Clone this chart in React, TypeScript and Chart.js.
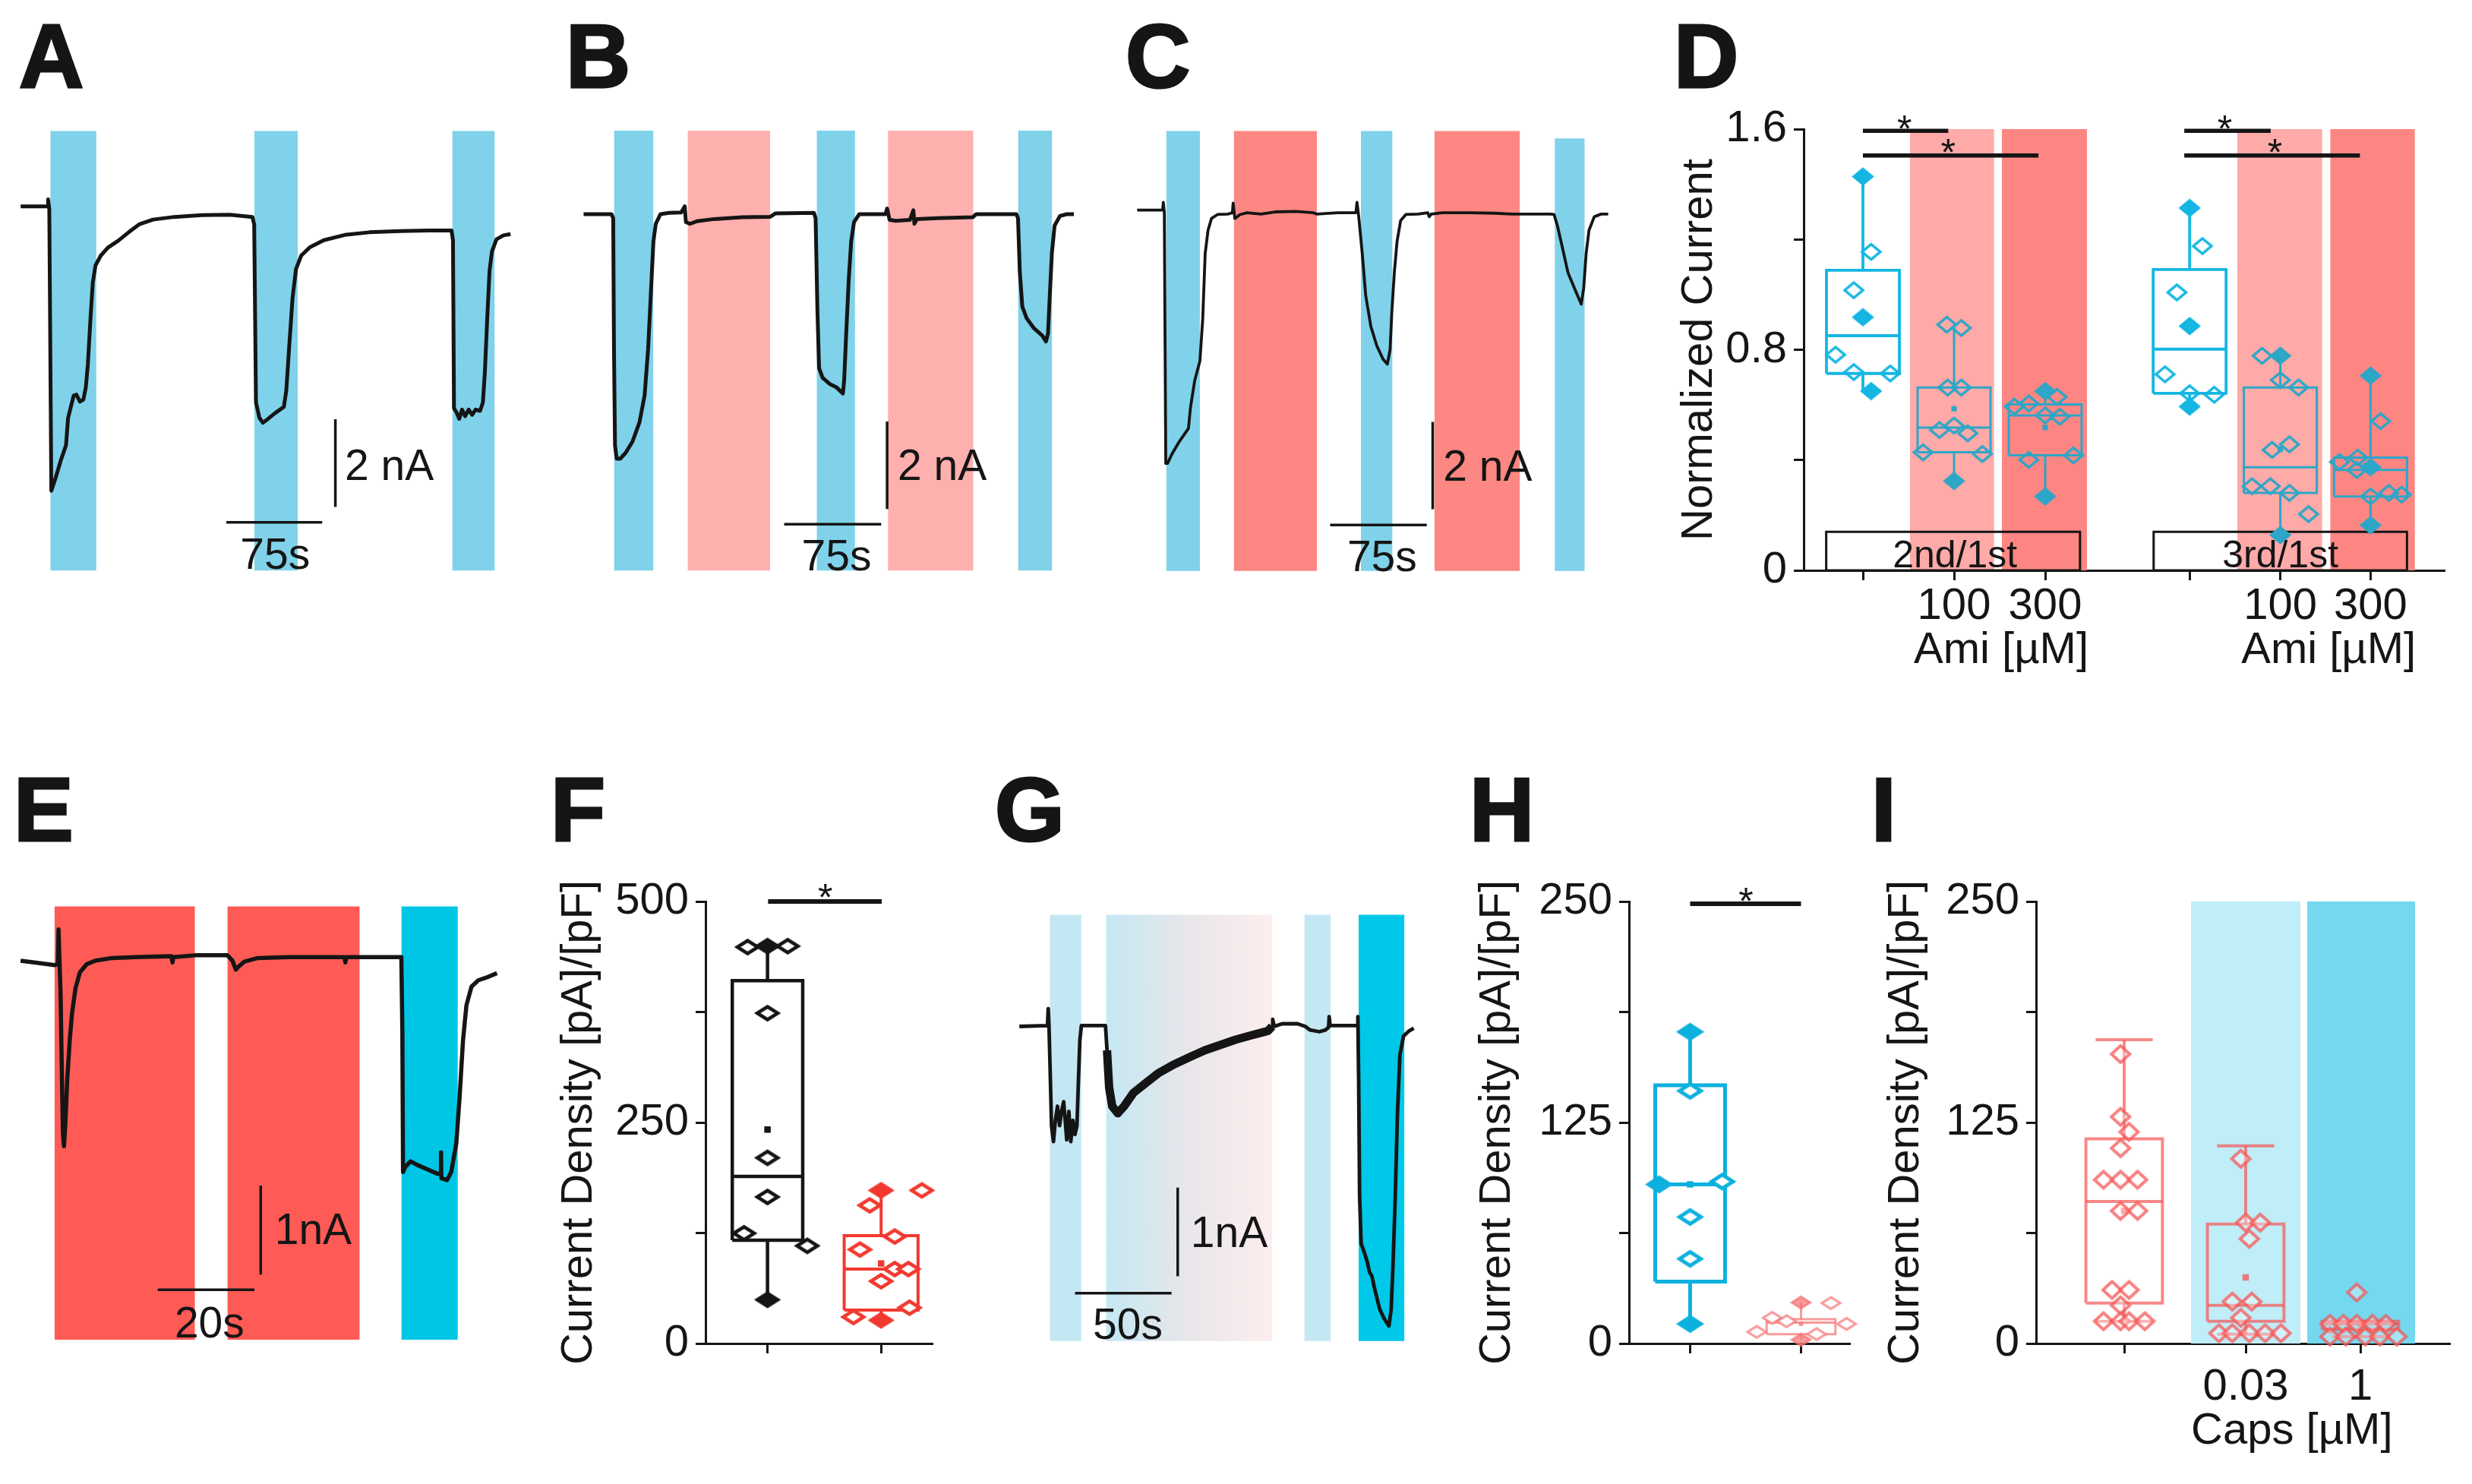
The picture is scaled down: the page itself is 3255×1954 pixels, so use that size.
import React, { useEffect, useRef } from 'react';
import { Chart, registerables } from 'chart.js';

Chart.register(...registerables);

const FONT = '"Liberation Sans", Arial, Helvetica, sans-serif';
const INK = '#151515';
Chart.defaults.font.family = FONT;
Chart.defaults.color = INK;

/* ---------------- stimulus colours ---------------- */
const STIM_COLOR: Record<string, string> = {
  cap: '#7fd2ea',
  ami: '#fdb0ad',
  ami2: '#fd8782',
  redE: '#fe5b56',
  capE: '#00c6e6',
  low: '#c4e8f3',
  high: '#00c8e8',
};
const RAMP_LEFT = '#c4e8f3';
const RAMP_MID = '#e9e6ea';
const RAMP_RIGHT = '#fdeeee';

/* ---------------- Panel A (time s, current nA) ---------------- */
const A_TIME = [0, 21.3, 21.5, 22.4, 24.0, 27.3, 31.4, 35.5, 37.1, 39.0, 41.5, 43.6, 46.4, 49.1, 51.0, 52.6, 54.5, 56.4, 58.6, 62.7, 68.2, 76.4, 84.5, 92.7, 103.6, 120.0, 141.8, 163.6, 181.3, 182.7, 184.1, 186.8, 189.5, 193.6, 199.1, 205.9, 207.8, 210.0, 212.7, 215.4, 219.5, 226.3, 237.2, 253.6, 272.7, 297.2, 319.1, 337.1, 338.2, 339.0, 340.9, 343.1, 345.3, 347.7, 350.5, 353.2, 355.9, 359.4, 361.6, 363.2, 364.9, 366.8, 368.7, 372.2, 377.7, 383.2];
const A_CURRENT = [0, 0, 0.16, -0.06, -6.48, -6.19, -5.79, -5.44, -4.82, -4.60, -4.31, -4.29, -4.45, -4.40, -4.12, -3.59, -2.62, -1.74, -1.34, -1.12, -0.94, -0.78, -0.59, -0.41, -0.30, -0.24, -0.20, -0.19, -0.24, -0.41, -4.47, -4.82, -4.93, -4.84, -4.71, -4.57, -4.20, -3.23, -2.09, -1.43, -1.12, -0.93, -0.77, -0.65, -0.59, -0.56, -0.55, -0.55, -0.77, -4.60, -4.69, -4.84, -4.63, -4.78, -4.63, -4.75, -4.63, -4.66, -4.47, -3.76, -2.62, -1.47, -1.03, -0.75, -0.66, -0.63];
const A_STIM_START = [23.2, 182.7, 337.6];
const A_STIM_END = [59.2, 216.8, 370.9];
const A_STIM_KIND = ['cap', 'cap', 'cap'];
const A_STIM_TOP = [1.72, 1.72, 1.72];

/* ---------------- Panel B ---------------- */
const B_TIME = [0, 21.6, 22.9, 23.5, 24.3, 25.6, 28.3, 32.4, 37.8, 43.2, 47.2, 49.9, 52.1, 54.0, 55.8, 59.4, 66.1, 75.5, 78.2, 79.1, 82.3, 87.7, 101.2, 122.8, 144.3, 148.4, 178.1, 179.4, 180.8, 182.1, 184.8, 190.2, 195.6, 200.5, 201.5, 203.2, 205.0, 206.9, 209.1, 213.1, 233.4, 234.7, 236.6, 241.5, 252.3, 255.0, 255.8, 257.7, 273.8, 300.8, 303.5, 334.6, 335.9, 337.3, 339.2, 342.6, 348.0, 354.8, 357.5, 359.1, 360.2, 362.1, 364.2, 368.3, 373.7, 379.1];
const B_CURRENT = [0, 0, -0.09, -3.08, -5.29, -5.59, -5.59, -5.46, -5.20, -4.76, -4.14, -3.08, -1.76, -0.62, -0.22, 0, 0.03, 0.04, 0.18, -0.18, -0.22, -0.16, -0.11, -0.07, -0.06, 0.02, 0.03, -0.09, -2.20, -3.52, -3.74, -3.88, -3.96, -4.10, -3.79, -2.64, -1.50, -0.62, -0.18, 0, 0, 0.13, -0.13, -0.15, -0.13, 0.09, -0.22, -0.11, -0.09, -0.07, 0, 0, -0.09, -1.32, -2.11, -2.38, -2.60, -2.78, -2.91, -2.73, -2.03, -0.88, -0.26, -0.04, 0, 0];
const B_STIM_START = [23.5, 80.4, 180.2, 235.3, 335.9];
const B_STIM_END = [54.0, 144.3, 209.9, 301.4, 362.3];
const B_STIM_KIND = ['cap', 'ami', 'cap', 'ami', 'cap'];
const B_STIM_TOP = [1.91, 1.91, 1.91, 1.91, 1.91];

/* ---------------- Panel C ---------------- */
const C_TIME = [0, 19.8, 20.3, 21.1, 21.7, 22.2, 23.6, 27.1, 32.5, 39.8, 41.4, 44.7, 48.7, 50.9, 52.8, 55.0, 57.7, 62.3, 70.4, 73.9, 74.5, 75.8, 79.9, 85.3, 96.1, 107.0, 123.2, 136.8, 139.5, 155.7, 169.8, 170.6, 172.0, 174.7, 177.4, 181.4, 186.0, 190.9, 194.2, 196.3, 197.7, 199.6, 201.7, 204.5, 208.5, 218.0, 225.6, 226.7, 228.3, 237.0, 258.6, 277.6, 291.1, 320.9, 323.6, 326.3, 330.4, 334.4, 339.9, 344.7, 346.6, 348.5, 350.7, 354.8, 360.2, 365.6];
const C_CURRENT = [0.06, 0.06, 0.24, 0, -3.13, -5.73, -5.73, -5.51, -5.24, -4.93, -4.45, -3.83, -3.39, -2.42, -0.93, -0.40, -0.13, -0.04, -0.03, 0, 0.22, -0.13, -0.04, 0, -0.03, 0.02, 0.03, 0, -0.03, 0, 0, 0.24, -0.09, -0.93, -1.89, -2.60, -3.04, -3.35, -3.46, -3.13, -2.25, -1.37, -0.66, -0.18, -0.04, -0.03, 0, -0.09, -0.03, 0, 0, -0.01, -0.03, -0.03, -0.04, -0.31, -0.84, -1.37, -1.76, -2.09, -1.72, -0.93, -0.40, -0.09, -0.03, -0.03];
const C_STIM_START = [22.5, 75.0, 173.6, 230.7, 324.1];
const C_STIM_END = [48.7, 139.5, 198.2, 297.1, 347.4];
const C_STIM_KIND = ['cap', 'ami2', 'cap', 'ami2', 'cap'];
const C_STIM_TOP = [1.87, 1.87, 1.87, 1.87, 1.70];

/* ---------------- Panel E ---------------- */
const E_TIME = [0, 2.81, 7.02, 7.72, 7.86, 8.07, 8.28, 8.56, 8.77, 8.98, 9.26, 9.68, 10.18, 10.67, 11.37, 12.28, 13.68, 15.44, 18.95, 23.86, 31.23, 31.44, 31.65, 36.14, 42.81, 43.86, 44.56, 45.27, 46.32, 49.13, 55.44, 67.02, 67.23, 67.44, 78.81, 79.02, 79.16, 79.65, 80.71, 82.11, 84.22, 86.32, 86.95, 87.02, 87.09, 88.28, 89.13, 90.18, 90.88, 91.58, 92.28, 93.34, 94.74, 96.85, 98.60];
const E_CURRENT = [-0.04, -0.06, -0.09, -0.08, 0.31, -0.06, -0.41, -1.35, -1.98, -2.12, -1.88, -1.35, -0.93, -0.62, -0.35, -0.17, -0.08, -0.04, -0.01, 0, 0.01, -0.06, 0, 0.02, 0.02, -0.04, -0.14, -0.10, -0.05, -0.01, 0, 0, -0.06, 0, 0, -0.83, -2.41, -2.35, -2.29, -2.33, -2.38, -2.43, -2.43, -2.19, -2.48, -2.50, -2.41, -2.09, -1.56, -0.93, -0.54, -0.33, -0.26, -0.22, -0.18];
const E_STIM_START = [7.02, 42.8, 78.8];
const E_STIM_END = [36.1, 70.2, 90.5];
const E_STIM_KIND = ['redE', 'redE', 'capE'];
const E_STIM_TOP = [0.568, 0.568, 0.568];

/* ---------------- Panel G ---------------- */
const G_TIME = [0, 14.6, 15.0, 15.4, 16.1, 16.7, 17.7, 18.7, 19.8, 20.9, 21.9, 23.0, 23.8, 24.6, 25.7, 26.7, 27.8, 28.9, 29.9, 30.7, 31.4, 32.2, 44.7, 45.5, 46.6, 48.2, 51.1, 54.4, 59.2, 65.6, 72.0, 80.1, 88.1, 96.2, 104.2, 112.2, 120.3, 129.1, 131.2, 131.5, 132.3, 136.4, 144.4, 148.4, 150.8, 155.7, 158.9, 160.5, 160.8, 161.3, 175.4, 175.7, 176.1, 176.6, 177.4, 179.0, 180.6, 181.7, 183.0, 184.6, 187.0, 189.4, 191.8, 193.0, 193.9, 195.1, 196.2, 197.5, 199.4, 202.3, 204.7];
const G_CURRENT = [-0.01, 0, 0.19, -0.01, -0.60, -1.13, -1.31, -1.07, -0.91, -1.13, -0.97, -0.86, -1.07, -1.29, -0.97, -1.31, -1.07, -1.23, -1.13, -0.60, -0.17, 0, 0, -0.28, -0.70, -0.91, -0.99, -0.91, -0.76, -0.65, -0.54, -0.44, -0.36, -0.28, -0.22, -0.16, -0.11, -0.06, -0.01, 0.07, -0.01, 0.02, 0.02, -0.01, -0.05, -0.07, -0.05, -0.02, 0.10, 0, 0, 0.10, -0.60, -1.93, -2.46, -2.56, -2.67, -2.78, -2.83, -2.99, -3.20, -3.31, -3.39, -3.20, -2.72, -1.93, -1.02, -0.33, -0.12, -0.06, -0.03];
const G_STIM_START = [15.8, 45.0, 147.9, 176.1];
const G_STIM_END = [32.2, 131.2, 161.6, 199.9];
const G_STIM_KIND = ['low', 'ramp', 'low', 'high'];
const G_STIM_TOP = [1.25, 1.25, 1.25, 1.25];

/* ---------------- Panel D (normalized current) ---------------- */
const D_POS = [1, 2, 3, 4.585, 5.58, 6.57];
const D_TICK_LABELS = ['', '100', '300', '', '100', '300'];
const D_Q1 = [0.714, 0.428, 0.417, 0.642, 0.281, 0.268];
const D_Q3 = [1.088, 0.663, 0.602, 1.091, 0.663, 0.409];
const D_MED = [0.851, 0.518, 0.562, 0.802, 0.374, 0.364];
const D_MIN = [0.650, 0.324, 0.268, 0.594, 0.128, 0.164];
const D_MAX = [1.428, 0.891, 0.650, 1.314, 0.778, 0.706];
const D_MEAN = [0.918, 0.586, 0.518, 0.886, 0.44, 0.37];
const D_POINTS = [
  [1.428, 1.155, 1.016, 0.918, 0.782, 0.719, 0.714, 0.650],
  [0.891, 0.879, 0.663, 0.663, 0.509, 0.525, 0.497, 0.428, 0.422, 0.324],
  [0.650, 0.629, 0.605, 0.594, 0.562, 0.557, 0.417, 0.401, 0.268],
  [1.314, 1.176, 1.008, 0.886, 0.711, 0.642, 0.637, 0.594],
  [0.778, 0.778, 0.690, 0.663, 0.457, 0.437, 0.305, 0.305, 0.281, 0.204, 0.128],
  [0.706, 0.541, 0.409, 0.393, 0.374, 0.364, 0.281, 0.275, 0.268, 0.164],
];
const D_JITTER = [
  [0, 0.09, -0.10, 0, -0.30, -0.10, 0.30, 0.09],
  [-0.08, 0.08, -0.07, 0.08, -0.16, 0, 0.15, -0.34, 0.31, 0],
  [0, 0.13, -0.18, -0.34, 0, 0.16, 0.31, -0.18, 0],
  [0, 0.14, -0.14, 0, -0.27, 0, 0.27, 0],
  [-0.20, 0, 0, 0.20, 0.10, -0.09, -0.31, -0.11, 0.10, 0.31, 0],
  [0, 0.11, -0.14, -0.34, 0, -0.15, 0.20, 0.34, 0, 0],
];
const D_FILLED = [
  [1, 0, 0, 1, 0, 0, 0, 1],
  [0, 0, 0, 0, 0, 0, 0, 0, 0, 1],
  [1, 0, 0, 0, 0, 0, 0, 0, 1],
  [1, 0, 0, 1, 0, 0, 0, 1],
  [0, 1, 0, 0, 0, 0, 0, 0, 0, 0, 1],
  [1, 0, 0, 0, 1, 0, 0, 0, 0, 1],
];
const D_BAND_START = [1.515, 2.523, 5.107, 6.127];
const D_BAND_END = [2.44, 3.459, 6.04, 7.057];
const D_BAND_COLOR = ['#fdaaa8', '#fd8683', '#fdaaa8', '#fd8683'];
const D_RATIO_START = [0.597, 4.19];
const D_RATIO_END = [3.382, 6.97];
const D_RATIO_LABEL = ['2nd/1st', '3rd/1st'];
const D_SIG_FROM = [1.0, 1.0, 4.526, 4.526];
const D_SIG_TO = [1.936, 2.926, 5.474, 6.453];
const D_SIG_LEVEL = [1.594, 1.504, 1.594, 1.504];
const D_STAR_X = [1.456, 1.936, 4.97, 5.52];
const D_STAR_Y = [1.632, 1.549, 1.632, 1.549];

/* ---------------- Panel F (current density) ---------------- */
const F_POS = [1, 2];
const F_Q1 = [116.8, 37.9];
const F_Q3 = [410.5, 122.1];
const F_MED = [188.9, 84.2];
const F_MIN = [49.5, 26.3];
const F_MAX = [449.5, 173.2];
const F_MEAN = [242, 90.5];
const F_POINTS = [
  [448.4, 449.5, 449.5, 373.7, 210, 165.8, 124.7, 110.5, 49.5],
  [173.2, 173.2, 156.3, 121, 106.3, 84.2, 84.2, 70.5, 40.5, 30, 26.3],
];
const F_JITTER = [
  [-0.175, 0, 0.178, 0, 0, 0, -0.207, 0.35, 0],
  [0, 0.358, -0.10, 0.12, -0.186, 0.12, 0.24, 0, 0.25, -0.244, 0],
];
const F_FILLED = [
  [0, 1, 0, 0, 0, 0, 0, 0, 1],
  [1, 0, 0, 0, 0, 0, 0, 0, 0, 0, 1],
];

/* ---------------- Panel H ---------------- */
const H_POS = [1, 2];
const H_Q1 = [35.0, 5.3];
const H_Q3 = [146.1, 13.7];
const H_MED = [90.0, 11.8];
const H_MIN = [11.1, 2.1];
const H_MAX = [176.3, 23.2];
const H_MEAN = [90.0, 11.1];
const H_POINTS = [
  [176.3, 142.9, 90, 91.6, 71.6, 47.9, 11.1],
  [23.2, 22.9, 14.5, 12.6, 11.1, 6.6, 5.3, 2.1],
];
const H_JITTER = [
  [0, 0, -0.28, 0.29, 0, 0, 0],
  [0, 0.27, -0.26, -0.13, 0.41, -0.40, 0.14, 0],
];
const H_FILLED = [
  [1, 0, 1, 0, 0, 0, 1],
  [1, 0, 0, 0, 0, 0, 0, 1],
];

/* ---------------- Panel I ---------------- */
const I_POS = [1, 2, 2.944];
const I_TICK_LABELS = ['', '0.03', '1'];
const I_Q1 = [22.9, 12.6, 7.9];
const I_Q3 = [115.8, 67.6, 12.6];
const I_MED = [80.3, 21.6, 11.1];
const I_MIN = [12.6, 5.3, 3.9];
const I_MAX = [171.8, 111.8, 12.6];
const I_MEAN = [75, 37.4, 11.1];
const I_POINTS = [
  [163.7, 128.2, 119.7, 110.5, 92.6, 92.6, 92.6, 75, 75, 30.3, 30.3, 21.6, 12.6, 12.6, 12.6, 12.6],
  [104.5, 68.4, 68.4, 59.2, 23.7, 23.7, 14.5, 5.8, 5.8, 5.8, 5.8, 5.8],
  [28.9, 11.1, 11.1, 11.1, 11.1, 11.1, 3.9, 3.9, 3.9, 3.9, 3.9],
];
const I_JITTER = [
  [-0.03, -0.03, 0.04, -0.03, -0.17, -0.03, 0.11, -0.03, 0.11, -0.10, 0.04, -0.03, -0.17, -0.03, 0.04, 0.17],
  [-0.04, 0, 0.12, 0.03, -0.11, 0.05, -0.04, -0.22, -0.11, 0.03, 0.16, 0.29],
  [-0.03, -0.25, -0.14, -0.03, 0.10, 0.21, -0.25, -0.12, 0.04, 0.16, 0.30],
];
const I_BAND_START = [1.55, 2.506];
const I_BAND_END = [2.45, 3.394];
const I_BAND_COLOR = ['#bfedf8', '#74d8ef'];

const CD_TITLE = 'Current Density [pA]/[pF]';

/* ---------------- helpers ---------------- */
function textPlugin(items: any[]) {
  return {
    id: 'panelText',
    afterDraw(chart: any) {
      const { ctx, scales } = chart;
      const xs = scales.x;
      const ys = scales.y;
      items.forEach((it) => {
        ctx.save();
        ctx.font = `${it.bold ? 'bold ' : ''}${it.size}px ${FONT}`;
        ctx.fillStyle = it.color || INK;
        ctx.textAlign = it.align || 'center';
        ctx.textBaseline = it.baseline || 'alphabetic';
        ctx.translate(xs.getPixelForValue(it.x), ys.getPixelForValue(it.y) + (it.dy || 0));
        ctx.fillText(it.text, 0, 0);
        ctx.restore();
      });
    },
  };
}

function seg(points: number[][], color: string, width: number, order = 1, extra: any = {}) {
  return {
    data: points.map((p) => ({ x: p[0], y: p[1] })),
    borderColor: color,
    borderWidth: width,
    borderJoinStyle: 'miter',
    borderCapStyle: 'butt',
    pointRadius: 0,
    pointHoverRadius: 0,
    fill: false,
    tension: 0,
    clip: false,
    order,
    ...extra,
  };
}

function band(a: number, b: number, lo: number, hi: number, color: any, order = 10) {
  return {
    data: [{ x: a, y: hi }, { x: b, y: hi }],
    fill: { value: lo },
    backgroundColor: color,
    borderColor: 'rgba(0,0,0,0)',
    borderWidth: 0,
    pointRadius: 0,
    tension: 0,
    clip: false,
    order,
  };
}

function rampFill(a: number, b: number) {
  return (c: any) => {
    const ch = c.chart;
    const xs = ch.scales && ch.scales.x;
    if (!xs || !ch.chartArea) return RAMP_LEFT;
    const g = ch.ctx.createLinearGradient(xs.getPixelForValue(a), 0, xs.getPixelForValue(b), 0);
    g.addColorStop(0, RAMP_LEFT);
    g.addColorStop(0.5, RAMP_MID);
    g.addColorStop(1, RAMP_RIGHT);
    return g;
  };
}

/* diamond marker drawn once into a small canvas, used as a Chart.js pointStyle */
function diamond(w: number, h: number, stroke: string, fill: string, lw: number) {
  const c = document.createElement('canvas');
  c.width = Math.ceil(w + lw * 2 + 2);
  c.height = Math.ceil(h + lw * 2 + 2);
  const x = c.getContext('2d') as CanvasRenderingContext2D;
  const cx = c.width / 2;
  const cy = c.height / 2;
  x.beginPath();
  x.moveTo(cx - w / 2, cy);
  x.lineTo(cx, cy - h / 2);
  x.lineTo(cx + w / 2, cy);
  x.lineTo(cx, cy + h / 2);
  x.closePath();
  x.fillStyle = fill;
  x.fill();
  x.lineJoin = 'miter';
  x.lineWidth = lw;
  x.strokeStyle = stroke;
  x.stroke();
  return c;
}

function boxSets(xc: number, w: number, q1: number, q3: number, med: number, lo: number, hi: number, color: string, lw: number, cap = 0) {
  const h = w / 2;
  const out: any[] = [
    seg([[xc - h, q1], [xc + h, q1], [xc + h, q3], [xc - h, q3], [xc - h, q1]], color, lw, 2),
    seg([[xc - h, med], [xc + h, med]], color, lw, 2),
    seg([[xc, q3], [xc, hi]], color, lw, 2),
    seg([[xc, q1], [xc, lo]], color, lw, 2),
  ];
  if (cap) {
    out.push(seg([[xc - cap / 2, hi], [xc + cap / 2, hi]], color, lw, 2));
    out.push(seg([[xc - cap / 2, lo], [xc + cap / 2, lo]], color, lw, 2));
  }
  return out;
}

function dots(xc: number, vals: number[], jit: number[], filled: number[], color: string, w: number, h: number, bw: number, hollow: string) {
  const open = diamond(w, h, color, hollow, bw);
  const solid = diamond(w, h, color, color, bw);
  return {
    data: vals.map((v, k) => ({ x: xc + (jit[k] || 0), y: v })),
    showLine: false,
    pointStyle: vals.map((_, k) => (filled[k] ? solid : open)),
    pointRadius: w / 2,
    pointHoverRadius: w / 2,
    borderColor: color,
    clip: false,
    order: 0,
  };
}

function meanMark(xc: number, v: number, color: string, r: number) {
  return {
    data: [{ x: xc, y: v }],
    showLine: false,
    pointStyle: 'rect',
    pointRadius: r,
    pointBorderWidth: 0,
    pointBackgroundColor: color,
    borderColor: color,
    clip: false,
    order: 0,
  };
}

/* ---------------- trace panels ---------------- */
function traceBox(g: any) {
  return {
    left: g.x0 + g.xMin * g.ppx,
    top: g.yRefPx - (g.yMax - g.yRef) * g.ppy,
    width: (g.xMax - g.xMin) * g.ppx,
    height: (g.yMax - g.yMin) * g.ppy,
  };
}

function traceChart(s: any) {
  const ds: any[] = [];
  s.starts.forEach((a: number, k: number) => {
    const kind = s.kinds[k];
    const col = kind === 'ramp' ? rampFill(a, s.ends[k]) : STIM_COLOR[kind];
    ds.push(band(a, s.ends[k], s.bottom, s.tops[k], col));
  });
  const extra: any = { borderJoinStyle: 'round' };
  if (s.thick) {
    extra.segment = {
      borderWidth: (c: any) => (c.p0.parsed.x >= s.thick[0] && c.p1.parsed.x <= s.thick[1] ? s.thick[2] : s.lw),
    };
  }
  ds.push(seg(s.t.map((t: number, k: number) => [t, s.i[k]]), INK, s.lw, 2, extra));
  ds.push(seg([[s.hbar[0], s.hbar[2]], [s.hbar[1], s.hbar[2]]], INK, 3.5, 1));
  ds.push(seg([[s.vbar[0], s.vbar[1]], [s.vbar[0], s.vbar[2]]], INK, 3.5, 1));
  const texts = [
    { x: s.tPos[0], y: s.tPos[1], text: s.tText, size: 57, align: 'center' },
    { x: s.iPos[0], y: s.iPos[1], text: s.iText, size: 57, align: 'left' },
  ];
  const g = s.geo;
  return {
    type: 'line',
    data: { datasets: ds },
    options: {
      responsive: false,
      animation: false,
      devicePixelRatio: 1,
      events: [],
      layout: { padding: 0 },
      plugins: { legend: { display: false }, tooltip: { enabled: false } },
      scales: {
        x: { type: 'linear', display: false, min: g.xMin, max: g.xMax },
        y: { type: 'linear', display: false, min: g.yMin, max: g.yMax },
      },
    },
    plugins: [textPlugin(texts)],
  };
}

const TRACE_SPECS = [
  {
    id: 'A', t: A_TIME, i: A_CURRENT, starts: A_STIM_START, ends: A_STIM_END, kinds: A_STIM_KIND, tops: A_STIM_TOP, bottom: -8.30,
    hbar: [160.9, 235.9, -7.20], vbar: [246.2, -4.85, -6.85], tText: '75s', tPos: [199.1, -8.26], iText: '2 nA', iPos: [253.6, -6.23], lw: 5,
    geo: { x0: 27.6, ppx: 1.684, yRef: 1.72, yRefPx: 172, ppy: 57.8, xMin: -12, xMax: 392, yMin: -8.45, yMax: 1.9 },
  },
  {
    id: 'B', t: B_TIME, i: B_CURRENT, starts: B_STIM_START, ends: B_STIM_END, kinds: B_STIM_KIND, tops: B_STIM_TOP, bottom: -8.15,
    hbar: [155.1, 230.1, -7.09], vbar: [234.7, -4.74, -6.74], tText: '75s', tPos: [195.6, -8.15], iText: '2 nA', iPos: [242.8, -6.08], lw: 5,
    geo: { x0: 768.3, ppx: 1.703, yRef: 1.91, yRefPx: 172, ppy: 57.55, xMin: -12, xMax: 392, yMin: -8.3, yMax: 2.05 },
  },
  {
    id: 'C', t: C_TIME, i: C_CURRENT, starts: C_STIM_START, ends: C_STIM_END, kinds: C_STIM_KIND, tops: C_STIM_TOP, bottom: -8.19,
    hbar: [149.8, 224.8, -7.14], vbar: [229.4, -4.78, -6.78], tText: '75s', tPos: [190.1, -8.19], iText: '2 nA', iPos: [237.5, -6.12], lw: 3.8,
    geo: { x0: 1497.4, ppx: 1.697, yRef: 1.87, yRefPx: 172, ppy: 57.55, xMin: -12, xMax: 380, yMin: -8.35, yMax: 2.0 },
  },
  {
    id: 'E', t: E_TIME, i: E_CURRENT, starts: E_STIM_START, ends: E_STIM_END, kinds: E_STIM_KIND, tops: E_STIM_TOP, bottom: -4.29,
    hbar: [28.4, 48.4, -3.73], vbar: [49.7, -2.56, -3.56], tText: '20s', tPos: [39.1, -4.26], iText: '1nA', iPos: [52.6, -3.22], lw: 5.5,
    geo: { x0: 26.8, ppx: 6.36, yRef: 0.568, yRefPx: 1194, ppy: 117.5, xMin: -3, xMax: 102, yMin: -4.4, yMax: 0.7 },
  },
  {
    id: 'G', t: G_TIME, i: G_CURRENT, starts: G_STIM_START, ends: G_STIM_END, kinds: G_STIM_KIND, tops: G_STIM_TOP, bottom: -3.56,
    hbar: [28.9, 79.0, -3.02], vbar: [82.2, -1.83, -2.83], tText: '50s', tPos: [56.3, -3.54], iText: '1nA', iPos: [88.9, -2.50], lw: 4.8,
    thick: [45.4, 131.3, 11],
    geo: { x0: 1342, ppx: 2.538, yRef: 1.25, yRefPx: 1204, ppy: 116.6, xMin: -6, xMax: 210, yMin: -3.7, yMax: 1.4 },
  },
];

/* ---------------- box panels ---------------- */
function boxChart(o: any) {
  const axisGrid = { display: true, drawOnChartArea: false, drawTicks: true, tickLength: 13, lineWidth: 3, tickWidth: 3, color: INK, tickColor: INK };
  const axisBorder = { display: true, color: INK, width: 3 };
  return {
    type: 'line',
    data: { datasets: o.datasets },
    options: {
      responsive: false,
      animation: false,
      devicePixelRatio: 1,
      events: [],
      layout: { padding: { top: o.padTop, right: o.padRight, left: 0, bottom: 0 } },
      plugins: { legend: { display: false }, tooltip: { enabled: false } },
      scales: {
        x: {
          type: 'linear',
          min: o.xMin,
          max: o.xMax,
          afterBuildTicks: (sc: any) => { sc.ticks = o.xTicks.map((v: number) => ({ value: v })); },
          afterFit: (sc: any) => { sc.height = o.xH; },
          ticks: { autoSkip: false, maxRotation: 0, minRotation: 0, padding: o.xPad, color: INK, font: { size: 58 }, callback: (_v: any, k: number) => (o.xLabels[k] ?? '') },
          grid: axisGrid,
          border: axisBorder,
        },
        y: {
          type: 'linear',
          min: 0,
          max: o.yMax,
          afterBuildTicks: (sc: any) => { sc.ticks = o.yTicks.map((v: number) => ({ value: v })); },
          afterFit: (sc: any) => { sc.width = o.yW; },
          ticks: { padding: 9, color: INK, font: { size: 58 }, callback: (_v: any, k: number) => (o.yLabels[k] ?? '') },
          grid: axisGrid,
          border: axisBorder,
          title: { display: true, text: o.yTitle, color: INK, font: { size: 58 }, padding: { top: o.titlePad, bottom: 0 } },
        },
      },
    },
    plugins: [textPlugin(o.texts)],
  };
}

const CTRL_BLUE = '#14b6e2';
const TEAL = '#2ea6c7';

function buildD() {
  const ds: any[] = [];
  D_BAND_START.forEach((a, k) => ds.push(band(a, D_BAND_END[k], 0, 1.6, D_BAND_COLOR[k])));
  D_RATIO_START.forEach((a, k) => {
    const b = D_RATIO_END[k];
    ds.push(seg([[a, 0], [b, 0], [b, 0.14], [a, 0.14], [a, 0]], INK, 3, 3));
  });
  D_POS.forEach((xc, k) => {
    const ctrl = k % 3 === 0;
    const col = ctrl ? CTRL_BLUE : TEAL;
    ds.push(...boxSets(xc, 0.8, D_Q1[k], D_Q3[k], D_MED[k], D_MIN[k], D_MAX[k], col, ctrl ? 3.8 : 3));
    ds.push(dots(xc, D_POINTS[k], D_JITTER[k], D_FILLED[k], col, 24, 20, 3.5, 'rgba(255,255,255,0)'));
    ds.push(meanMark(xc, D_MEAN[k], col, 5));
  });
  D_SIG_FROM.forEach((a, k) => ds.push(seg([[a, D_SIG_LEVEL[k]], [D_SIG_TO[k], D_SIG_LEVEL[k]]], INK, 5.5, 1)));
  const texts: any[] = [];
  D_RATIO_LABEL.forEach((t, k) => texts.push({ x: (D_RATIO_START[k] + D_RATIO_END[k]) / 2 + (k === 0 ? 0.02 : 0), y: 0.012, text: t, size: 50 }));
  D_STAR_X.forEach((x, k) => texts.push({ x, y: D_STAR_Y[k], text: '*', size: 50, dy: 29 }));
  texts.push({ x: 2.517, y: -0.292, text: 'Ami [\u00b5M]', size: 58, baseline: 'middle' });
  texts.push({ x: 6.11, y: -0.292, text: 'Ami [\u00b5M]', size: 58, baseline: 'middle' });
  return boxChart({
    datasets: ds, xMin: 0.35, xMax: 7.375, xTicks: D_POS, xLabels: D_TICK_LABELS, xH: 164, xPad: 0,
    yMax: 1.6, yTicks: [0, 0.4, 0.8, 1.2, 1.6], yLabels: ['0', '', '0.8', '', '1.6'], yW: 215,
    yTitle: 'Normalized Current', titlePad: 43, padTop: 70, padRight: 27, texts,
  });
}

function buildF() {
  const ds: any[] = [];
  const cols = [INK, '#f2392f'];
  F_POS.forEach((xc, k) => {
    ds.push(...boxSets(xc, k === 0 ? 0.62 : 0.65, F_Q1[k], F_Q3[k], F_MED[k], F_MIN[k], F_MAX[k], cols[k], k === 0 ? 4.5 : 4));
    ds.push(dots(xc, F_POINTS[k], F_JITTER[k], F_FILLED[k], cols[k], 27, 17, 4.5, '#ffffff'));
    ds.push(meanMark(xc, F_MEAN[k], cols[k], 6));
  });
  ds.push(seg([[1.005, 500], [2.005, 500]], INK, 6, 1));
  const texts = [{ x: 1.509, y: 514.2, text: '*', size: 50, dy: 29 }];
  return boxChart({
    datasets: ds, xMin: 0.4545, xMax: 2.4465, xTicks: F_POS, xLabels: ['', ''], xH: 66, xPad: 0,
    yMax: 500, yTicks: [0, 125, 250, 375, 500], yLabels: ['0', '', '250', '', '500'], yW: 239,
    yTitle: CD_TITLE, titlePad: 38, padTop: 67, padRight: 18, texts,
  });
}

function buildH() {
  const ds: any[] = [];
  const cols = ['#0db1de', 'rgba(245,120,120,0.75)'];
  H_POS.forEach((xc, k) => {
    ds.push(...boxSets(xc, k === 0 ? 0.63 : 0.62, H_Q1[k], H_Q3[k], H_MED[k], H_MIN[k], H_MAX[k], cols[k], k === 0 ? 5 : 3));
    ds.push(dots(xc, H_POINTS[k], H_JITTER[k], H_FILLED[k], cols[k], k === 0 ? 28 : 24, k === 0 ? 18 : 15, k === 0 ? 5 : 3.2, '#ffffff'));
    ds.push(meanMark(xc, H_MEAN[k], cols[k], k === 0 ? 6 : 4));
  });
  ds.push(seg([[1.0, 248.7], [2.0, 248.7]], INK, 6, 1));
  const texts = [{ x: 1.503, y: 255.3, text: '*', size: 50, dy: 29 }];
  return boxChart({
    datasets: ds, xMin: 0.449, xMax: 2.435, xTicks: H_POS, xLabels: ['', ''], xH: 66, xPad: 0,
    yMax: 250, yTicks: [0, 62.5, 125, 187.5, 250], yLabels: ['0', '', '125', '', '250'], yW: 220,
    yTitle: CD_TITLE, titlePad: 12, padTop: 67, padRight: 13, texts,
  });
}

function buildI() {
  const ds: any[] = [];
  I_BAND_START.forEach((a, k) => ds.push(band(a, I_BAND_END[k], 0, 250, I_BAND_COLOR[k])));
  const line = 'rgba(247,85,85,0.7)';
  const pt = 'rgba(245,85,85,0.75)';
  I_POS.forEach((xc, k) => {
    ds.push(...boxSets(xc, 0.63, I_Q1[k], I_Q3[k], I_MED[k], I_MIN[k], I_MAX[k], line, 4, 0.47));
    ds.push(dots(xc, I_POINTS[k], I_JITTER[k], [], pt, 24, 22, 4, 'rgba(255,255,255,0.35)'));
    ds.push(meanMark(xc, I_MEAN[k], pt, 6));
  });
  const texts = [{ x: 2.38, y: -49.8, text: 'Caps [\u00b5M]', size: 58, baseline: 'middle' }];
  return boxChart({
    datasets: ds, xMin: 0.275, xMax: 3.675, xTicks: I_POS, xLabels: I_TICK_LABELS, xH: 161, xPad: 10,
    yMax: 250, yTicks: [0, 62.5, 125, 187.5, 250], yLabels: ['0', '', '125', '', '250'], yW: 211,
    yTitle: CD_TITLE, titlePad: 5, padTop: 67, padRight: 20, texts,
  });
}

const BOX_PANELS = [
  { id: 'D', box: { left: 2160, top: 100, width: 1085, height: 815 }, build: buildD },
  { id: 'F', box: { left: 690, top: 1120, width: 555, height: 715 }, build: buildF },
  { id: 'H', box: { left: 1925, top: 1120, width: 525, height: 715 }, build: buildH },
  { id: 'I', box: { left: 2470, top: 1120, width: 775, height: 810 }, build: buildI },
];

const LETTERS = [
  { t: 'A', left: 25, top: 15 },
  { t: 'B', left: 745, top: 15 },
  { t: 'C', left: 1482, top: 15 },
  { t: 'D', left: 2204, top: 15 },
  { t: 'E', left: 18, top: 1007 },
  { t: 'F', left: 725, top: 1007 },
  { t: 'G', left: 1310, top: 1007 },
  { t: 'H', left: 1935, top: 1007 },
  { t: 'I', left: 2464, top: 1007 },
];

function ChartCanvas({ box, build }: { box: any; build: () => any }) {
  const ref = useRef<HTMLCanvasElement | null>(null);
  useEffect(() => {
    const chart = new Chart(ref.current as HTMLCanvasElement, build());
    return () => chart.destroy();
  }, []);
  const w = Math.round(box.width);
  const h = Math.round(box.height);
  return (
    <canvas
      ref={ref}
      width={w}
      height={h}
      style={{ position: 'absolute', left: Math.round(box.left), top: Math.round(box.top), width: w, height: h }}
    />
  );
}

export default function App() {
  return (
    <div style={{ position: 'absolute', left: 0, top: 0, width: 3255, height: 1954, background: '#ffffff', overflow: 'hidden' }}>
      {TRACE_SPECS.map((s) => (
        <ChartCanvas key={s.id} box={traceBox(s.geo)} build={() => traceChart(s)} />
      ))}
      {BOX_PANELS.map((p) => (
        <ChartCanvas key={p.id} box={p.box} build={p.build} />
      ))}
      {LETTERS.map((l) => (
        <div
          key={l.t}
          style={{
            position: 'absolute', left: l.left, top: l.top, fontFamily: FONT, fontWeight: 700, fontSize: 118,
            lineHeight: '118px', color: INK, WebkitTextStroke: `3px ${INK}`,
          }}
        >
          {l.t}
        </div>
      ))}
    </div>
  );
}
